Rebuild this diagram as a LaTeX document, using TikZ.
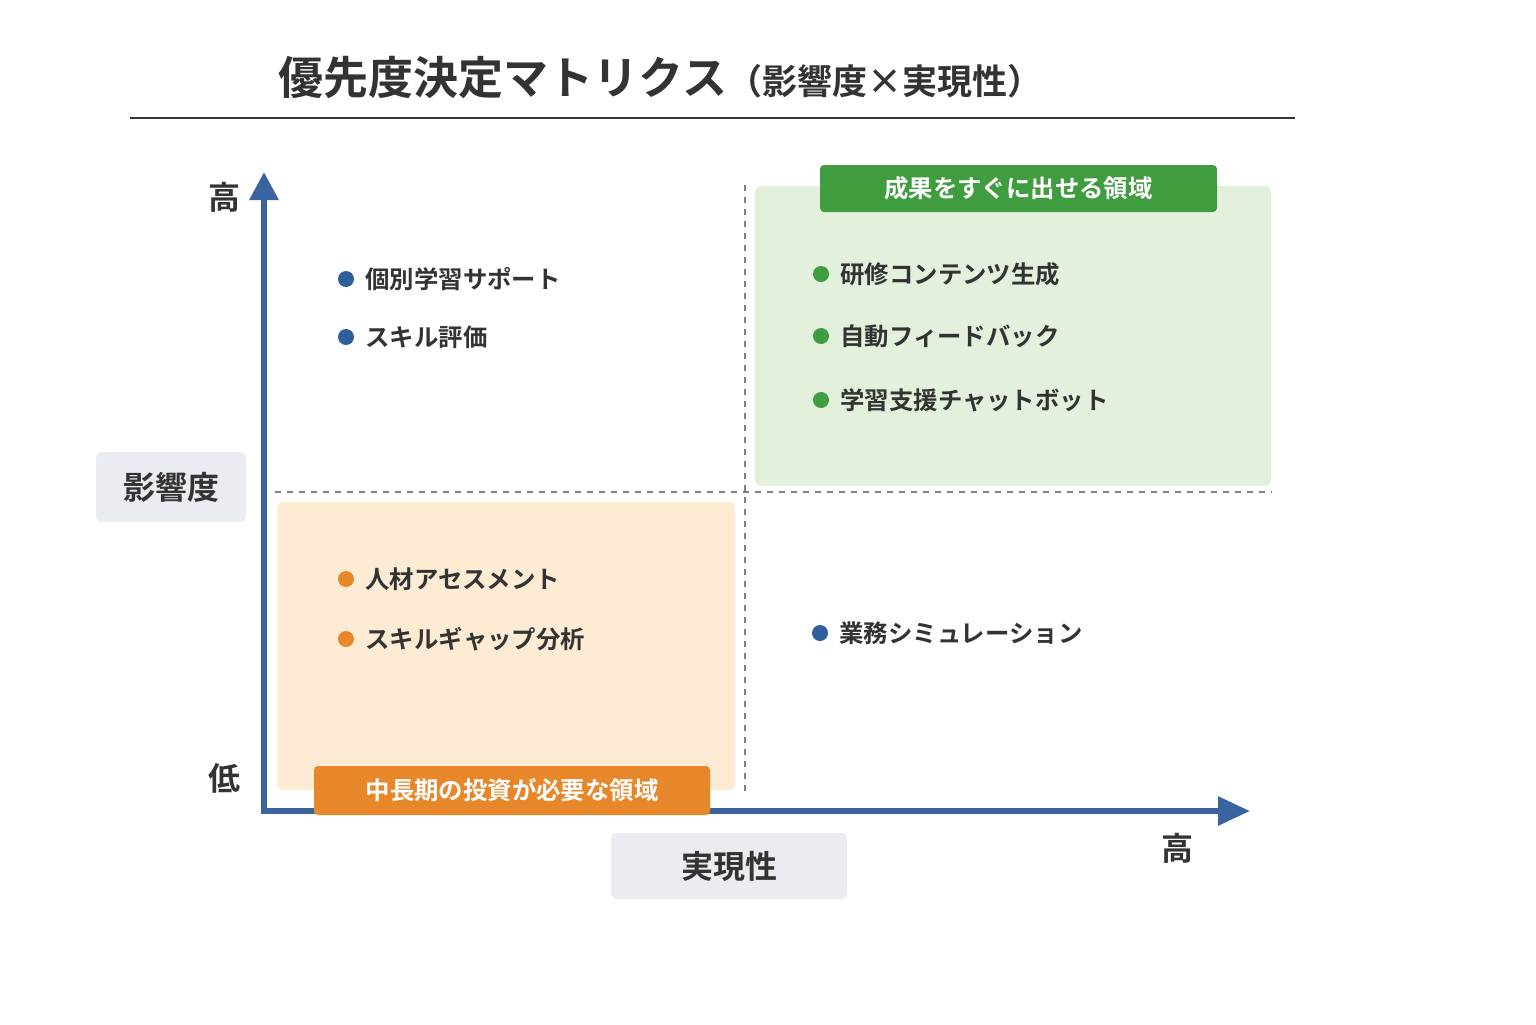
\documentclass[tikz,border=0pt]{standalone}
\usepackage{fontspec}
\setmainfont{Noto Sans CJK JP}
\newfontfamily\jpb{Noto Sans CJK JP Bold}
\usetikzlibrary{arrows.meta}
\definecolor{axisblue}{HTML}{3A64A0}
\definecolor{dotblue}{HTML}{2F5F9A}
\definecolor{gfill}{HTML}{E3F0DC}
\definecolor{gtag}{HTML}{3F9C3F}
\definecolor{ofill}{HTML}{FDEBD3}
\definecolor{otag}{HTML}{E8872A}
\definecolor{lbox}{HTML}{E9EDF2}
\definecolor{txt}{HTML}{333333}
\tikzset{
 item/.style={anchor=west,font=\jpb\fontsize{12.2}{14}\selectfont,text=txt,inner sep=0pt},
 dot/.style={circle,inner sep=0pt,minimum size=8pt},
 tag/.style={rounded corners=2pt,text=white,font=\jpb\fontsize{12.2}{14}\selectfont,inner sep=0pt},
 axlab/.style={font=\jpb\fontsize{16}{18}\selectfont,text=txt}
}
\begin{document}
\begin{tikzpicture}[x=0.5pt,y=-0.5pt]
\useasboundingbox (0,0) rectangle (1536,1024);
\fill[white] (0,0) rectangle (1536,1024);
\node[anchor=west,inner sep=0pt,text=txt] (title) at (278,78) {\jpb\fontsize{22.5}{26}\selectfont 優先度決定マトリクス\fontsize{17.5}{20}\selectfont（影響度×実現性）};
\draw[line width=1pt,txt] (130,118) -- (1295,118);
% regions
\fill[gfill,rounded corners=3pt] (755,186) rectangle (1271,486);
\fill[ofill,rounded corners=3pt] (277,502) rectangle (735,790);
\draw[gray,dashed,line width=0.6pt] (745,185) -- (745,795);
\draw[gray,dashed,line width=0.6pt] (275,492) -- (1272,492);
% axes
\coordinate (ytop) at (264,172);
\coordinate (xend) at (1250,811);
\draw[axisblue,line width=3pt,-{Triangle[length=14pt,width=14pt]}] (264,814) -- (ytop);
\draw[axisblue,line width=3pt,-{Triangle[length=16pt,width=14pt]}] (262,811) -- (xend);
% tags
\node[tag,fill=gtag,minimum width=198.5pt,minimum height=23.5pt] (gt) at (1018.5,188.5) {成果をすぐに出せる領域};
\node[tag,fill=otag,minimum width=198pt,minimum height=24.5pt] (ot) at (512,790.5) {中長期の投資が必要な領域};
% axis labels
\node[axlab] (hy) at (224,197) {高};
\node[axlab] (ly) at (224,778) {低};
\node[axlab] (hx) at (1177,848) {高};
\node[fill=lbox,rounded corners=3pt,minimum width=75pt,minimum height=35pt,axlab] (yl) at (171,487) {影響度};
\node[fill=lbox,rounded corners=3pt,minimum width=118pt,minimum height=33pt,axlab] (xl) at (729,866) {実現性};
% items
\foreach \x/\y/\c/\t/\n in {346/279/dotblue/個別学習サポート/a,346/337/dotblue/スキル評価/b,
 821/274/gtag/研修コンテンツ生成/c,821/336/gtag/自動フィードバック/d,821/400/gtag/学習支援チャットボット/e,
 346/579/otag/人材アセスメント/f,346/639/otag/スキルギャップ分析/g,820/633/dotblue/業務シミュレーション/h}{
 \node[dot,fill=\c] (d\n) at (\x,\y) {};
 \node[item] (t\n) at (\x+19,\y) {\t};
}
\end{tikzpicture}
\end{document}
